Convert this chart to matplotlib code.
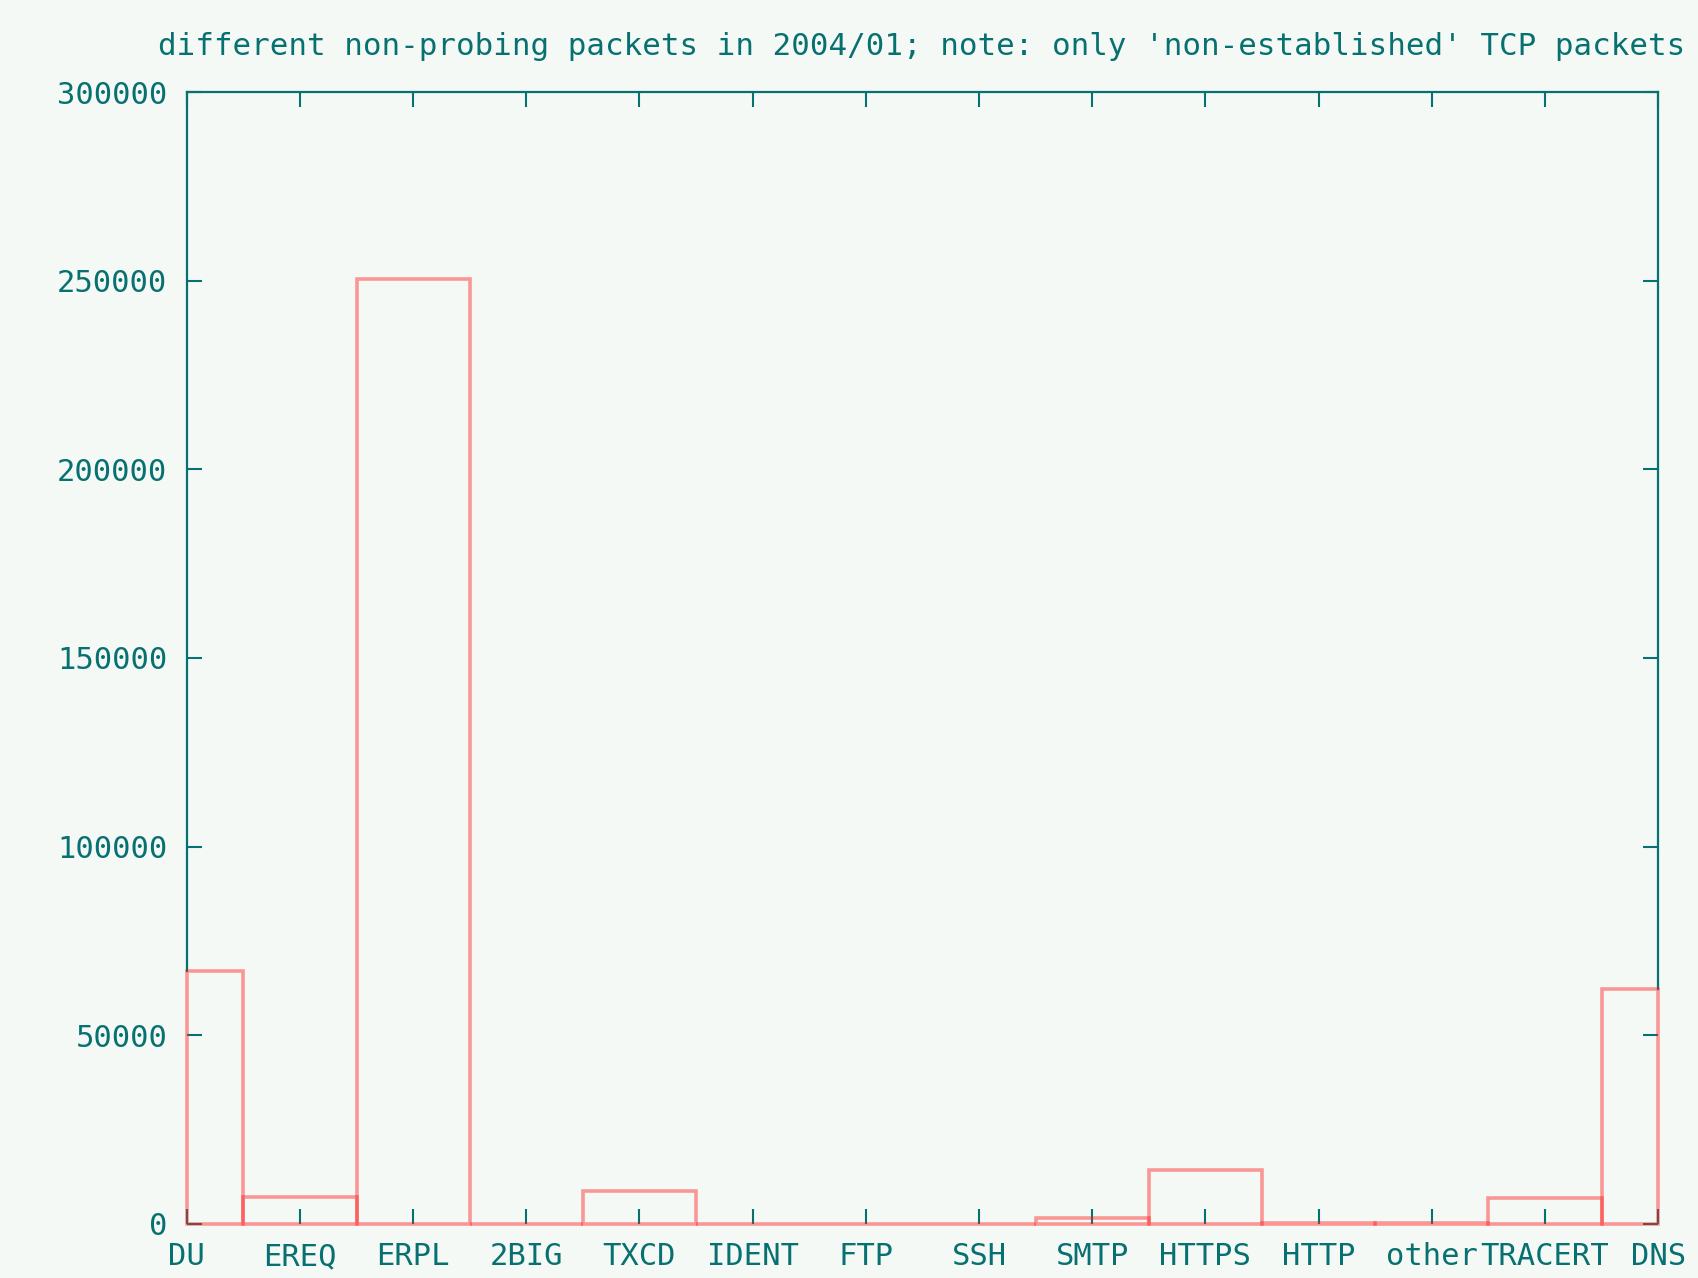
import numpy as np
import matplotlib
matplotlib.use("Agg")
import matplotlib.pyplot as plt

categories = ["DU", "EREQ", "ERPL", "2BIG", "TXCD", "IDENT", "FTP",
              "SSH", "SMTP", "HTTPS", "HTTP", "other", "TRACERT", "DNS"]
packets = [67000, 7200, 250500, 0, 8600, 0, 0,
           0, 1700, 14200, 350, 350, 7000, 62200]
y_ticks = [0, 50000, 100000, 150000, 200000, 250000, 300000]

title = "different non-probing packets in 2004/01; note: only 'non-established' TCP packets"

BG = "#f5f9f6"
TEAL = "#077070"
RED = "#ff2020"
FONT = "DejaVu Sans Mono"

fig = plt.figure(figsize=(16.98, 12.78), dpi=100, facecolor=BG)
ax = fig.add_axes([0.110, 0.0423, 0.8665, 0.8857], facecolor=BG)

x = np.arange(len(categories))
x_min, x_max = x[0], x[-1]

# gnuplot-style boxes, clipped to the x range so the end boxes keep their edge
left = np.clip(x - 0.5, x_min, x_max)
right = np.clip(x + 0.5, x_min, x_max)
ax.bar(left, packets, width=right - left, align="edge", fill=False,
       edgecolor=RED, alpha=0.45, linewidth=2.6, zorder=3, clip_on=False)

ax.set_xlim(x_min, x_max)
ax.set_ylim(y_ticks[0], y_ticks[-1])

ax.set_xticks(x)
ax.set_xticklabels(categories)
ax.set_yticks(y_ticks)
ax.set_yticklabels([str(v) for v in y_ticks])

ax.tick_params(axis="both", direction="in", length=11, width=1.5,
               color=TEAL, labelcolor=TEAL, labelsize=22,
               top=True, right=True)
ax.tick_params(axis="x", pad=13)
ax.tick_params(axis="y", pad=14)
for lab in ax.get_xticklabels() + ax.get_yticklabels():
    lab.set_fontfamily(FONT)

for sp in ax.spines.values():
    sp.set_color(TEAL)
    sp.set_linewidth(1.6)
# the boxes cover the border where they touch it
ax.spines["bottom"].set_visible(False)
ax.spines["left"].set_bounds(packets[0], y_ticks[-1])
ax.spines["right"].set_bounds(packets[-1], y_ticks[-1])

fig.text(0.5428, 0.964, title, ha="center", va="center",
         fontsize=22.2, color=TEAL, family=FONT)

fig.savefig("out.png", dpi=100, facecolor=BG)
